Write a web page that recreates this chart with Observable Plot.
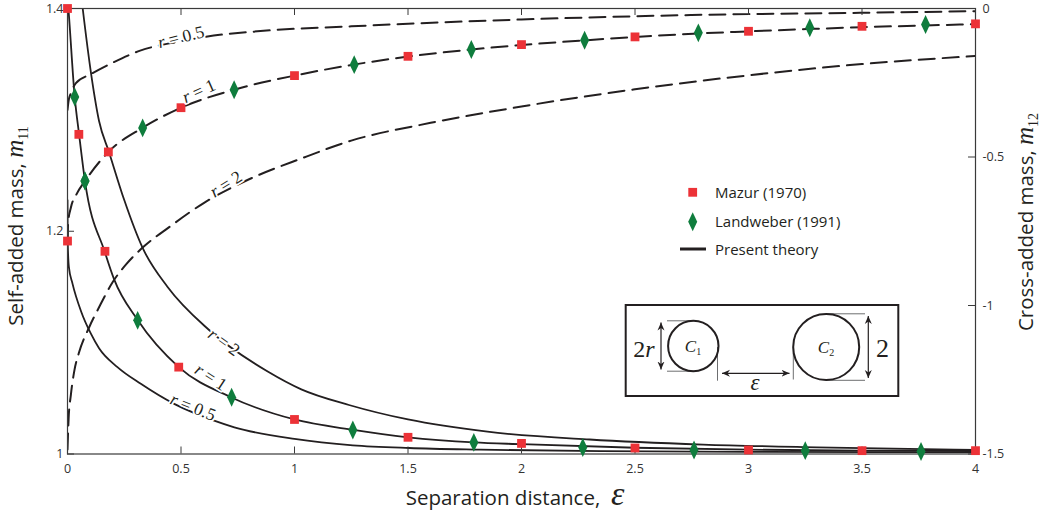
<!DOCTYPE html>
<html><head><meta charset="utf-8">
<script src="https://cdn.jsdelivr.net/npm/d3@7"></script>
<script src="https://cdn.jsdelivr.net/npm/@observablehq/plot@0.6"></script>
<style>
html,body{margin:0;padding:0;background:#fff;}
svg{display:block;}
</style></head><body>
<script>
// ---------- axes / ticks ----------
const xTicks = [0, 0.5, 1, 1.5, 2, 2.5, 3, 3.5, 4];
const leftTicks = [1, 1.2, 1.4];
const rightTicks = [0, -0.5, -1, -1.5];
const leftDomain = [1, 1.4];
const rightDomain = [-1.5, 0];

// ---------- present theory: self-added mass m11 (left axis) ----------
const selfR05 = [[0,1.228],[0.001,1.19],[0.006,1.168],[0.022,1.153],[0.06,1.128],[0.103,1.108],[0.139,1.095],[0.22,1.078],[0.323,1.063],[0.47,1.045],[0.646,1.030],[0.735,1.024],[1.0,1.0135],[1.257,1.0078],[1.504,1.0054],[1.82,1.0039],[2.35,1.0025],[3.0,1.0019],[4,1.0015]];
const selfR1 = [[0,1.41],[0.004,1.4],[0.032,1.32],[0.051,1.287],[0.077,1.245],[0.165,1.181],[0.205,1.157],[0.31,1.12],[0.49,1.078],[0.72,1.051],[1.0,1.031],[1.26,1.0216],[1.5,1.015],[1.79,1.0104],[2.0,1.0088],[2.5,1.0056],[3.0,1.0039],[3.5,1.0031],[4,1.0027]];
const selfR2 = [[0.05,1.43],[0.067,1.4],[0.105,1.34],[0.139,1.299],[0.183,1.271],[0.25,1.228],[0.331,1.185],[0.441,1.150],[0.62,1.112],[0.882,1.074],[1.03,1.058],[1.24,1.044],[1.5,1.031],[1.85,1.020],[2.3,1.013],[2.8,1.0085],[3.3,1.006],[4,1.0036]];

// ---------- present theory: cross-added mass m12 (right axis) ----------
const crossR05 = [[0,-0.341],[0.005,-0.31],[0.015,-0.285],[0.037,-0.251],[0.1,-0.222],[0.2,-0.182],[0.32,-0.142],[0.5,-0.110],[0.6,-0.096],[0.85,-0.076],[1.25,-0.060],[2.0,-0.037],[2.75,-0.022],[3.5,-0.0145],[4,-0.009]];
const crossR1 = [[0,-0.783],[0.003,-0.72],[0.015,-0.67],[0.04,-0.625],[0.077,-0.581],[0.18,-0.483],[0.33,-0.402],[0.5,-0.334],[0.734,-0.2735],[1.0,-0.226],[1.26,-0.189],[1.5,-0.162],[1.78,-0.138],[2.0,-0.123],[2.28,-0.107],[2.5,-0.096],[2.78,-0.084],[3.0,-0.077],[3.27,-0.069],[3.5,-0.063],[3.78,-0.057],[4.0,-0.053]];
const crossR2 = [[0,-1.485],[0.005,-1.38],[0.015,-1.30],[0.03,-1.22],[0.05,-1.16],[0.095,-1.074],[0.139,-1.006],[0.2,-0.92],[0.26,-0.86],[0.331,-0.805],[0.45,-0.735],[0.6,-0.655],[0.8,-0.575],[1.03,-0.505],[1.25,-0.445],[1.6,-0.385],[2.0,-0.33],[2.5,-0.272],[3.0,-0.225],[3.5,-0.187],[4.0,-0.16]];

// ---------- experiments (r = 1) ----------
const mazurSelfEps = [0, 0.05, 0.165, 0.49, 1, 1.5, 2, 2.5, 3, 3.5, 4];
const mazurSelf    = [1.4, 1.287, 1.182, 1.078, 1.031, 1.015, 1.0095, 1.0054, 1.0036, 1.003, 1.003];
const mazurCrossEps = [0, 0.18, 0.5, 1, 1.5, 2, 2.5, 3, 3.5, 4];
const mazurCross    = [-0.783, -0.483, -0.334, -0.226, -0.161, -0.1216, -0.0956, -0.0767, -0.06, -0.0517];
const landSelfEps = [0.032, 0.077, 0.309, 0.723, 1.257, 1.79, 2.27, 2.76, 3.25, 3.76];
const landSelf    = [1.3205, 1.2452, 1.120, 1.051, 1.0216, 1.0104, 1.0059, 1.0036, 1.003, 1.0023];
const landCrossEps = [0.077, 0.331, 0.734, 1.263, 1.779, 2.278, 2.779, 3.27, 3.78];
const landCross    = [-0.581, -0.402, -0.2735, -0.189, -0.138, -0.107, -0.082, -0.065, -0.054];

// ---------- curve labels (anchor in data units) ----------
const curveLabels = [
  {r: "0.5", eps: 0.502, v: 1.374, angle: -14},
  {r: "1",   eps: 0.581, v: 1.3255, angle: -24},
  {r: "2",   eps: 0.700, v: 1.242, angle: -32},
  {r: "2",   eps: 0.692, v: 1.100, angle: 36},
  {r: "1",   eps: 0.634, v: 1.0687, angle: 33},
  {r: "0.5", eps: 0.555, v: 1.0418, angle: 22}
];

// ---------- build tables ----------
const toLeft = v => leftDomain[0] + (v - rightDomain[0]) * (leftDomain[1] - leftDomain[0]) / (rightDomain[1] - rightDomain[0]);
const toRight = v => rightDomain[0] + (v - leftDomain[0]) * (rightDomain[1] - rightDomain[0]) / (leftDomain[1] - leftDomain[0]);
const rows = (arr, r) => arr.map(([eps, v]) => ({eps, v, r}));
const selfRows = [...rows(selfR05, "0.5"), ...rows(selfR1, "1"), ...rows(selfR2, "2")];
const crossRows = [...rows(crossR05, "0.5"), ...rows(crossR1, "1"), ...rows(crossR2, "2")];
const mazurRows = [
  ...mazurSelfEps.map((e, i) => ({eps: e, y: mazurSelf[i]})),
  ...mazurCrossEps.map((e, i) => ({eps: e, y: toLeft(mazurCross[i])}))
];
const landRows = [
  ...landSelfEps.map((e, i) => ({eps: e, y: landSelf[i]})),
  ...landCrossEps.map((e, i) => ({eps: e, y: toLeft(landCross[i])}))
];

const INK = "#231f20";
const RED = "#ec3237";
const GREEN = "#0f7d3d";
const SANS = "'Open Sans', sans-serif";
const SERIF = "'Liberation Serif', 'Times New Roman', serif";
const squareSym = {draw(ctx, size) { const s = Math.sqrt(size / Math.PI); ctx.moveTo(-s, -s); ctx.lineTo(s, -s); ctx.lineTo(s, s); ctx.lineTo(-s, s); ctx.closePath(); }};
const diamondSym = {draw(ctx, size) { const s = Math.sqrt(size / Math.PI); ctx.moveTo(0, -2.1 * s); ctx.lineTo(s, 0); ctx.lineTo(0, 2.1 * s); ctx.lineTo(-s, 0); ctx.closePath(); }};

const W = 1042, H = 512;
const mL = 67, mR = 67, mT = 8, mB = 58.5;
const tickX = 7 / (W - mL - mR) * 4;        // 7px inward tick, in x units
const tickY = 7 / (H - mT - mB) * 0.4;      // 7px inward tick, in y units

const plot = Plot.plot({
  width: W, height: H,
  marginLeft: mL, marginRight: mR, marginTop: mT, marginBottom: mB,
  x: {domain: [0, 4]},
  y: {domain: leftDomain},
  style: {fontFamily: SANS, fontSize: "12.5px", color: INK, background: "white"},
  marks: [
    Plot.line(crossRows, {x: "eps", y: d => toLeft(d.v), z: "r", stroke: INK, strokeWidth: 2, strokeDasharray: "16,8", curve: "monotone-x", clip: true}),
    Plot.line(selfRows, {x: "eps", y: "v", z: "r", stroke: INK, strokeWidth: 1.8, curve: "monotone-x", clip: true}),
    Plot.frame({stroke: "#3a3a3a", strokeWidth: 1.2}),
    Plot.ruleY(leftTicks, {y: d => d, x1: 0, x2: tickX, stroke: "#3a3a3a"}),
    Plot.ruleY(rightTicks, {y: d => toLeft(d), x1: 4 - tickX, x2: 4, stroke: "#3a3a3a"}),
    Plot.ruleX(xTicks, {x: d => d, y1: leftDomain[0], y2: leftDomain[0] + tickY, stroke: "#3a3a3a"}),
    Plot.ruleX(xTicks, {x: d => d, y1: leftDomain[1] - tickY, y2: leftDomain[1], stroke: "#3a3a3a"}),
    Plot.axisX(xTicks, {anchor: "bottom", tickSize: 0, tickPadding: 10, tickFormat: d => String(d), label: null, fill: "#333"}),
    Plot.axisY(leftTicks, {anchor: "left", tickSize: 0, tickPadding: 4, tickFormat: d => String(d), label: null, fill: "#333"}),
    Plot.axisY(rightTicks.map(toLeft), {anchor: "right", tickSize: 0, tickPadding: 7, tickFormat: d => String(Math.round(toRight(d) * 100) / 100), label: null, fill: "#333"}),
    Plot.dot(mazurRows, {x: "eps", y: "y", symbol: squareSym, r: 4.4, fill: RED, stroke: "none"}),
    Plot.dot(landRows, {x: "eps", y: "y", symbol: diamondSym, r: 4.5, fill: GREEN, stroke: "none"})
  ]
});
document.body.appendChild(plot);

const svg = d3.select(plot);
const sx = plot.scale("x"), sy = plot.scale("y");

// curve labels (inline, with a white halo that breaks the line)
for (const L of curveLabels) {
  const t = svg.append("text")
    .attr("transform", `translate(${sx.apply(L.eps)},${sy.apply(L.v)}) rotate(${L.angle})`)
    .attr("text-anchor", "middle").attr("dy", "0.33em")
    .attr("stroke", "white").attr("stroke-width", 3.5).attr("paint-order", "stroke").attr("stroke-linejoin", "round")
    .style("font-family", SERIF).style("font-size", "17.5px").attr("fill", INK);
  t.append("tspan").style("font-style", "italic").text("r");
  t.append("tspan").text(" = " + L.r);
}

// axis titles
const lt = svg.append("text").attr("transform", "translate(23,226) rotate(-90)").attr("text-anchor", "middle")
  .style("font-family", SANS).style("font-size", "20.5px").attr("fill", INK);
lt.append("tspan").text("Self-added mass, ");
lt.append("tspan").style("font-family", SERIF).style("font-style", "italic").style("font-size", "25px").text("m");
lt.append("tspan").attr("dy", 5).style("font-family", SERIF).style("font-size", "14px").text("11");

const rt = svg.append("text").attr("transform", "translate(1033,222) rotate(-90)").attr("text-anchor", "middle")
  .style("font-family", SANS).style("font-size", "20.5px").attr("fill", INK);
rt.append("tspan").text("Cross-added mass, ");
rt.append("tspan").style("font-family", SERIF).style("font-style", "italic").style("font-size", "25px").text("m");
rt.append("tspan").attr("dy", 5).style("font-family", SERIF).style("font-size", "14px").text("12");

const bt = svg.append("text").attr("x", 515).attr("y", 505).attr("text-anchor", "middle")
  .style("font-family", SANS).style("font-size", "20.5px").attr("fill", INK);
bt.append("tspan").text("Separation distance,  ");
bt.append("tspan").style("font-family", SERIF).style("font-style", "italic").style("font-size", "34px").text("ε");

// legend
const lg = svg.append("g").style("font-family", SANS).style("font-size", "15px").attr("fill", INK).attr("text-anchor", "start");
lg.append("path").attr("transform", "translate(692.7,192.3)").attr("d", d3.symbol(squareSym, 4.4 * 4.4 * Math.PI)()).attr("fill", RED);
lg.append("text").attr("x", 715).attr("y", 197.5).attr("text-anchor", "start").text("Mazur (1970)");
lg.append("path").attr("transform", "translate(692.7,221.7)").attr("d", d3.symbol(diamondSym, 4.5 * 4.5 * Math.PI)()).attr("fill", GREEN);
lg.append("text").attr("x", 715).attr("y", 226.5).attr("text-anchor", "start").text("Landweber (1991)");
lg.append("line").attr("x1", 680).attr("x2", 706).attr("y1", 249).attr("y2", 249).attr("stroke", INK).attr("stroke-width", 3);
lg.append("text").attr("x", 715).attr("y", 254.5).attr("text-anchor", "start").text("Present theory");

// inset diagram
const defs = svg.append("defs");
defs.append("marker").attr("id", "ah").attr("viewBox", "-8 -4 9 8").attr("refX", 0).attr("refY", 0)
  .attr("markerWidth", 9).attr("markerHeight", 8).attr("markerUnits", "userSpaceOnUse").attr("orient", "auto-start-reverse")
  .append("path").attr("d", "M0,0 L-8,-3.5 L-5.5,0 L-8,3.5 Z").attr("fill", INK);
const ins = svg.append("g");
ins.append("rect").attr("x", 625.7).attr("y", 305).attr("width", 272.6).attr("height", 91).attr("fill", "white").attr("stroke", INK).attr("stroke-width", 2);
const grey = "#6d6e70";
const seg = (x1, y1, x2, y2, col = grey, w = 1) => ins.append("line").attr("x1", x1).attr("y1", y1).attr("x2", x2).attr("y2", y2).attr("stroke", col).attr("stroke-width", w);
seg(667, 320.8, 694, 320.8); seg(667, 371.2, 694, 371.2);
seg(717.5, 347, 717.5, 380.7); seg(793.3, 347, 793.3, 379.5);
seg(826, 313.8, 865, 313.8); seg(826, 380.3, 865, 380.3);
seg(661, 322.5, 661, 369.5, INK, 1.2).attr("marker-start", "url(#ah)").attr("marker-end", "url(#ah)");
seg(722, 373.3, 789.5, 373.3, INK, 1.2).attr("marker-start", "url(#ah)").attr("marker-end", "url(#ah)");
seg(868.3, 316, 868.3, 378, INK, 1.2).attr("marker-start", "url(#ah)").attr("marker-end", "url(#ah)");
ins.append("circle").attr("cx", 693.3).attr("cy", 346).attr("r", 25.2).attr("fill", "none").attr("stroke", INK).attr("stroke-width", 2);
ins.append("circle").attr("cx", 826.2).attr("cy", 347).attr("r", 33).attr("fill", "none").attr("stroke", INK).attr("stroke-width", 2);
const serifText = (x, y, size) => ins.append("text").attr("x", x).attr("y", y).attr("text-anchor", "middle").style("font-family", SERIF).style("font-size", size + "px").attr("fill", INK);
const t2r = serifText(644, 357, 24); t2r.append("tspan").text("2"); t2r.append("tspan").style("font-style", "italic").text("r");
const tc1 = serifText(693, 352, 17); tc1.append("tspan").style("font-style", "italic").text("C"); tc1.append("tspan").attr("dy", 3).style("font-size", "10px").text("1");
const tc2 = serifText(826, 353, 17); tc2.append("tspan").style("font-style", "italic").text("C"); tc2.append("tspan").attr("dy", 3).style("font-size", "10px").text("2");
serifText(755, 390, 23).style("font-style", "italic").text("ε");
serifText(882.5, 357, 26).text("2");
</script>
</body></html>
